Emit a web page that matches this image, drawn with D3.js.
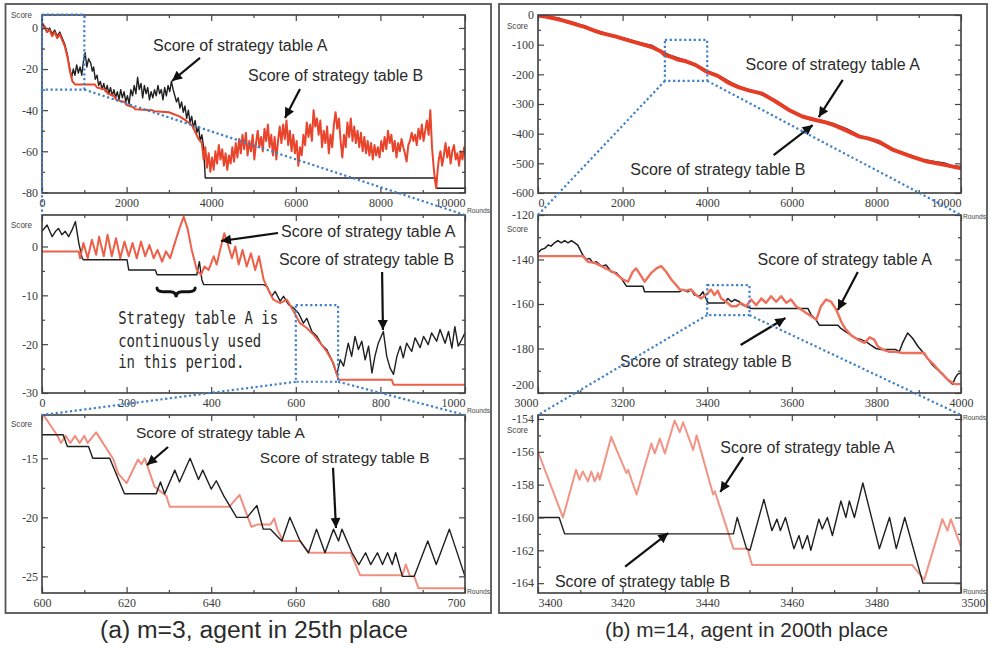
<!DOCTYPE html>
<html>
<head>
<meta charset="utf-8">
<title>Scores of strategy tables</title>
<script src="https://cdn.jsdelivr.net/npm/d3@7"></script>
<style>
  body { margin: 0; background: #fff; }
  svg { display: block; }
  .tick text { font-family: "Liberation Serif", "Times New Roman", serif; font-size: 12px; fill: #3b3b3b; }
  .tick line { stroke: #444; stroke-width: 1.2; }
  .note { font-family: "Liberation Sans", Arial, sans-serif; fill: #2b2b2b; }
  .small { font-family: "Liberation Sans", Arial, sans-serif; fill: #444; }
</style>
</head>
<body>
<svg id="chart" width="990" height="651"></svg>
<script>
// ---- data: [round, score] ----
const a1Black = [[0,3],[60,0],[120,-2],[180,0],[240,-3],[300,-1],[360,-4],[420,-2],[480,-5],[540,-8],[600,-13],[650,-19],[700,-24],[740,-20],[780,-23],[820,-18],[860,-22],[900,-19],[940,-23],[980,-16],[1020,-12],[1060,-19],[1100,-15],[1150,-17],[1190,-21],[1220,-19],[1260,-25],[1300,-23],[1340,-28],[1380,-26],[1420,-30],[1460,-27],[1500,-31],[1540,-28],[1580,-32],[1620,-29],[1660,-33],[1700,-30],[1740,-34],[1780,-31],[1820,-35],[1860,-30],[1900,-34],[1940,-31],[1980,-36],[2020,-33],[2060,-37],[2100,-30],[2140,-33],[2180,-28],[2220,-32],[2260,-24],[2300,-30],[2340,-27],[2380,-34],[2420,-28],[2460,-32],[2500,-29],[2540,-35],[2580,-31],[2620,-34],[2660,-30],[2700,-33],[2740,-28],[2780,-32],[2820,-30],[2860,-35],[2900,-29],[2940,-33],[2980,-28],[3020,-31],[3060,-26],[3100,-30],[3140,-33],[3180,-36],[3220,-34],[3260,-39],[3300,-36],[3340,-41],[3380,-38],[3420,-44],[3460,-40],[3500,-46],[3540,-43],[3580,-49],[3620,-45],[3660,-51],[3700,-48],[3740,-55],[3780,-52],[3820,-58],[3860,-73],[9300,-73],[9330,-78],[10000,-78]];
const a1Red = [[0,-1],[60,1],[120,-2],[180,-1],[240,-4],[300,-2],[360,-5],[420,-3],[480,-6],[540,-9],[600,-14],[660,-21],[720,-26],[780,-27.5],[1250,-27.5],[1300,-29],[1500,-30],[1560,-32],[1700,-33],[1760,-35],[1950,-36],[2000,-37.5],[2150,-38.5],[2200,-39.5],[2600,-40],[2650,-40.5],[3000,-41],[3250,-43],[3400,-45],[3550,-47.5],[3700,-54],[3780,-56],[3820,-64],[3860,-58],[3900,-68],[3940,-61],[3980,-70],[4020,-63],[4060,-69],[4100,-60],[4140,-66],[4180,-57],[4220,-64],[4260,-59],[4300,-67],[4340,-61],[4380,-69],[4420,-62],[4460,-66],[4500,-58],[4540,-65],[4580,-56],[4620,-63],[4660,-54],[4700,-61],[4740,-52],[4780,-59],[4820,-51],[4860,-62],[4900,-55],[4940,-60],[4980,-52],[5020,-64],[5060,-56],[5100,-50],[5140,-58],[5180,-53],[5220,-60],[5260,-49],[5300,-55],[5340,-47],[5380,-58],[5420,-52],[5460,-62],[5500,-53],[5540,-64],[5580,-55],[5620,-48],[5660,-56],[5700,-47],[5740,-54],[5780,-45],[5820,-57],[5860,-50],[5900,-60],[5940,-52],[5980,-61],[6020,-55],[6060,-67],[6100,-58],[6140,-62],[6180,-52],[6220,-57],[6260,-46],[6300,-53],[6340,-47],[6380,-55],[6420,-40],[6460,-48],[6500,-44],[6540,-52],[6580,-45],[6620,-58],[6660,-50],[6700,-56],[6740,-48],[6780,-61],[6820,-52],[6860,-58],[6900,-47],[6940,-41],[6980,-49],[7020,-44],[7060,-55],[7100,-63],[7140,-52],[7180,-58],[7220,-46],[7260,-53],[7300,-44],[7340,-55],[7380,-48],[7420,-56],[7460,-50],[7500,-58],[7540,-51],[7580,-60],[7620,-53],[7660,-61],[7700,-55],[7740,-62],[7780,-56],[7820,-64],[7860,-57],[7900,-62],[7940,-58],[7980,-63],[8020,-55],[8060,-60],[8100,-53],[8140,-59],[8180,-50],[8220,-56],[8260,-52],[8300,-60],[8340,-55],[8380,-63],[8420,-56],[8460,-60],[8500,-54],[8540,-58],[8580,-61],[8620,-65],[8660,-57],[8700,-55],[8740,-51],[8780,-55],[8820,-52],[8860,-57],[8900,-49],[8940,-54],[8980,-47],[9020,-55],[9060,-50],[9100,-45],[9140,-52],[9180,-40],[9220,-58],[9260,-68],[9290,-74],[9320,-78],[9350,-70],[9380,-64],[9420,-60],[9460,-67],[9500,-62],[9540,-56],[9580,-63],[9620,-58],[9660,-66],[9700,-60],[9740,-57],[9780,-64],[9820,-61],[9860,-67],[9900,-60],[9940,-64],[9980,-58],[10000,-62]];

const a2Black = [[0,3.1],[12,4.4],[24,2],[32,3.1],[39,3.7],[47,2.4],[55,3.1],[63,2],[71,3.4],[79,5.1],[87,0.7],[95,-2.4],[98,-2.7],[201,-2.7],[205,-4.8],[268,-4.8],[272,-5.8],[366,-5.8],[372,-3.1],[378,-6.8],[382,-7.8],[524,-7.8],[532,-8.2],[543,-10.2],[551,-9.2],[563,-11.2],[571,-10.2],[583,-11.9],[595,-12.6],[606,-13.6],[618,-15.7],[626,-14.7],[638,-17.4],[650,-18.4],[661,-20.1],[673,-21.1],[685,-23.2],[697,-26.2],[705,-23.2],[713,-24.5],[724,-19.8],[732,-22.5],[740,-18.4],[748,-21.1],[756,-19.4],[764,-23.2],[772,-20.4],[780,-25.9],[787,-22.5],[795,-19.8],[807,-17.4],[815,-22.5],[823,-24.9],[831,-26.2],[839,-22.5],[847,-20.4],[854,-22.8],[862,-19.8],[874,-21.5],[882,-18.7],[894,-20.7],[902,-18.4],[913,-20.1],[921,-17.7],[933,-19.4],[941,-17],[953,-19.8],[961,-17.4],[969,-20.8],[976,-16.4],[984,-20.4],[992,-19.1],[1000,-17.7]];
const a2Red = [[0,-1],[87,-1],[90,-2.4],[98,0.7],[108,-2.4],[118,1.4],[128,-1.7],[135,2],[146,-2],[155,2.4],[165,-2],[175,1.7],[185,-2.4],[195,1],[205,-2],[214,0.7],[224,-2.4],[234,1],[244,-2],[254,0.3],[264,-2.4],[273,-0.7],[284,-3.1],[293,-1],[303,-2.4],[315,1],[325,3.7],[335,6.1],[344,3.7],[354,-0.7],[366,-4.8],[376,-5.8],[384,-4.1],[394,-4.8],[406,-2],[413,-3.7],[421,-0.7],[431,2.7],[440,0.3],[449,-2.4],[457,0],[465,-3.7],[474,-0.7],[484,-4.1],[494,-1.4],[504,-4.8],[513,-2],[524,-6.8],[535,-8.9],[547,-10.9],[563,-11.6],[579,-10.9],[595,-13.3],[610,-15.7],[626,-16.7],[642,-18.1],[658,-19.8],[673,-21.5],[689,-23.9],[701,-27.3],[827,-27.3],[831,-28.3],[1000,-28.3]];

const a3Black = [[600,-13],[605,-13],[606,-14],[611,-14],[612,-15],[616,-15],[619.5,-18],[627,-18],[628,-17],[629,-18],[631.4,-16],[632.5,-17],[635,-15],[637,-16.8],[638,-16],[640,-17.6],[641.2,-16.9],[643,-18.2],[646,-20],[648.5,-20],[650.8,-19],[652.3,-21],[654,-21],[656.7,-22],[658.6,-20],[661,-22],[663,-23],[664.9,-21],[666.9,-23],[668.9,-21],[670.1,-22],[670.9,-21],[673.3,-23],[674.9,-24],[676.5,-23],[677.7,-24],[679.3,-23],[680.5,-24],[681.7,-23],[682.8,-24],[683.6,-23],[685.2,-25],[688,-25],[691.2,-22],[693.2,-24],[696.3,-21],[700,-25]];
const a3Red = [[600.3,-11.3],[603.5,-13],[604.5,-13.7],[605.6,-13.1],[606.7,-13.7],[607.8,-13.1],[608.9,-13.7],[610,-13.1],[610.8,-13.7],[612.8,-12.8],[616.9,-15.1],[618,-16.3],[620,-17.1],[622.7,-15.1],[623.5,-15.5],[624.3,-15],[626.6,-17.4],[629.4,-18.2],[630.2,-19.1],[644.3,-19.1],[646.7,-18.1],[649.5,-20.8],[651,-20.6],[654,-20.6],[654.9,-20.1],[655.6,-21],[657,-22],[661,-22],[663,-23],[673,-23],[675.2,-24.9],[685.2,-24.9],[686,-24],[687,-25],[688,-25],[689,-26],[700,-26]];

const b1Black = [[0,-1],[300,-8],[500,-12],[700,-25],[900,-30],[1100,-38],[1350,-56],[1500,-58],[1800,-72],[2000,-78],[2300,-90],[2500,-98],[2700,-104],[2900,-122],[3100,-136],[3400,-150],[3700,-168],[4000,-190],[4300,-208],[4600,-232],[4900,-250],[5200,-262],[5500,-282],[5800,-308],[6100,-333],[6400,-350],[6700,-357],[7000,-368],[7300,-385],[7600,-408],[7900,-422],[8200,-440],[8500,-460],[8800,-474],[9100,-488],[9400,-496],[9600,-500],[9800,-510],[10000,-512]];
const b1Red = [[0,-2],[200,-6],[400,-12],[600,-19],[800,-27],[950,-34],[1100,-40],[1300,-51],[1500,-61],[1700,-68],[1850,-73],[1980,-79],[2200,-88],[2450,-98],[2690,-108],[2920,-124],[3000,-135],[3150,-141],[3300,-150],[3500,-156],[3720,-168],[4000,-192],[4250,-205],[4500,-228],[4750,-244],[5000,-255],[5300,-265],[5600,-290],[5930,-320],[6250,-342],[6400,-348],[6560,-354],[6800,-362],[7000,-371],[7270,-388],[7600,-410],[7800,-416],[8060,-427],[8400,-455],[8850,-478],[9200,-494],[9640,-506],[10000,-517]];

const b2Black = [[3000,-137],[3008,-135.5],[3016,-135],[3024,-133.5],[3031,-134],[3039,-132.5],[3047,-131.5],[3055,-132.5],[3063,-131.5],[3071,-132.5],[3079,-131.5],[3087,-132.5],[3094,-133.5],[3106,-138],[3114,-140],[3122,-139.5],[3130,-141.5],[3138,-141],[3150,-143],[3161,-142.5],[3173,-145.5],[3185,-146],[3197,-148.5],[3209,-152],[3248,-152],[3252,-154.5],[3335,-154.5],[3342,-153.5],[3354,-154.5],[3362,-153.5],[3370,-156],[3382,-156.5],[3390,-154.5],[3398,-158],[3402,-159.5],[3441,-159.5],[3449,-157.5],[3457,-159],[3465,-158],[3476,-159],[3484,-160.5],[3504,-162],[3638,-162],[3646,-165],[3657,-167],[3665,-169.5],[3709,-169.5],[3716,-171],[3728,-172.5],[3740,-174],[3752,-175.5],[3764,-176],[3776,-177],[3787,-178.5],[3799,-180],[3811,-180.5],[3846,-180.5],[3854,-181.5],[3862,-177.5],[3874,-173],[3886,-175.5],[3898,-179],[3909,-181.5],[3921,-184.5],[3933,-187.5],[3945,-189.5],[3957,-191.5],[3968,-194],[3980,-196],[3987,-193],[3992,-191.5],[4000,-191]];
const b2Red = [[3000,-138.5],[3090,-138.5],[3106,-138.5],[3118,-141],[3134,-141.5],[3150,-143],[3165,-144.5],[3181,-146],[3201,-149],[3213,-150],[3224,-145.5],[3232,-144],[3244,-147.5],[3252,-150],[3268,-146],[3280,-144],[3291,-143],[3303,-145.5],[3315,-149],[3327,-151.5],[3335,-153.5],[3350,-154],[3362,-153.5],[3374,-156],[3386,-157.5],[3402,-155],[3409,-153.5],[3417,-156],[3425,-154],[3433,-157.5],[3445,-159],[3457,-161],[3469,-161],[3480,-159.5],[3492,-161],[3504,-158],[3516,-160.5],[3528,-157.5],[3539,-159.5],[3551,-156.5],[3563,-159],[3575,-156.5],[3587,-159.5],[3598,-158],[3610,-161],[3622,-162.5],[3634,-164],[3646,-165.5],[3658,-167],[3669,-161],[3681,-158],[3693,-159],[3705,-162.5],[3717,-168],[3728,-171.5],[3740,-174],[3756,-176],[3772,-177.5],[3784,-175],[3795,-176],[3803,-179],[3815,-180.5],[3831,-181.5],[3846,-181.5],[3862,-182],[3913,-182],[3921,-184.5],[3937,-187.5],[3953,-191],[3969,-194],[3984,-196],[4000,-196]];

const b3Black = [[3400,-160],[3405,-160],[3406.3,-161],[3446.2,-161],[3447.1,-160],[3449.3,-161.9],[3450.1,-162],[3453.4,-158.9],[3455.3,-160.8],[3456.5,-160.1],[3457.3,-160.8],[3458.5,-160],[3460.5,-161.9],[3461.7,-161.1],[3462.5,-161.9],[3463.7,-161.1],[3464.5,-162],[3466.4,-160.1],[3467.2,-160.7],[3468.4,-160],[3469.6,-161.1],[3471.6,-159],[3472.8,-160],[3473.6,-159],[3474.8,-160],[3476.8,-157.9],[3480.7,-161.9],[3483.1,-160],[3484.7,-161.9],[3486.7,-160],[3491,-164],[3500,-164]];
const b3Red = [[3400,-156],[3405.9,-160],[3409,-157.1],[3409.8,-157.7],[3410.6,-157.2],[3411.8,-157.8],[3412.6,-157.2],[3413.4,-157.8],[3414.2,-157.3],[3414.6,-157.7],[3417.3,-155.1],[3420.9,-157.3],[3421.3,-157.1],[3423.3,-158.6],[3426.8,-155.5],[3427.6,-156.1],[3428.8,-155.2],[3430,-156.1],[3432.3,-154.1],[3433.5,-154.8],[3434.3,-154.2],[3436.7,-155.9],[3437.5,-155],[3441.4,-158.6],[3441.8,-158.4],[3446.2,-161.9],[3449.5,-161.9],[3450.6,-162.9],[3488.5,-162.9],[3491.3,-163.8],[3495.6,-160.1],[3496.8,-160.8],[3497.6,-160.1],[3500,-161.8]];

// ---- ticks and labels ----
const a1XTicks = [0, 2000, 4000, 6000, 8000, 10000];
const a1YTicks = [0, -20, -40, -60, -80];
const a2XTicks = [0, 200, 400, 600, 800, 1000];
const a2YTicks = [0, -10, -20, -30];
const a3XTicks = [600, 620, 640, 660, 680, 700];
const a3YTicks = [-15, -20, -25];
const b1XTicks = [0, 2000, 4000, 6000, 8000, 10000];
const b1YTicks = [0, -100, -200, -300, -400, -500, -600];
const b2XTicks = [3000, 3200, 3400, 3600, 3800, 4000];
const b2YTicks = [-120, -140, -160, -180, -200];
const b3XTicks = [3400, 3420, 3440, 3460, 3480, 3500];
const b3YTicks = [-154, -156, -158, -160, -162, -164];

const labelA = "Score of strategy table A";
const labelB = "Score of strategy table B";
const braceNote = ["Strategy table A is", "continuously used", "in this period."];
const captions = ["(a) m=3, agent in 25th place", "(b) m=14, agent in 200th place"];

// ---- layout ----
const BLACK = "#1f1f1f";
const BLUE = "#3f80c8";
const colL = { left: 42, right: 465 };
const colR = { left: 538, right: 961 };
const rows = [{ top: 15, bottom: 193 }, { top: 215, bottom: 393 }, { top: 415, bottom: 593 }];

const panels = [
  { id: "a1", ...colL, ...rows[0], xDomain: [0, 10000], yDomain: [-80.3, 6.3], xTicks: a1XTicks, yTicks: a1YTicks, scoreDy: 3, roundsDy: 20,
    firstAnchor: "middle", lastAnchor: "end", lowLabelShift: 0,
    series: [{ data: a1Black, color: BLACK, width: 1.4 }, { data: a1Red, color: "#e8452c", width: 2 }],
    zoom: { x: [0, 1000], y: [6.45, -30], target: "a2" },
    notes: [
      { text: labelA, at: [2624, -11.2], size: 16 }, { arrow: [[3735, -14.6], [3073, -25.8]] },
      { text: labelB, at: [4870, -25.8], size: 16 }, { arrow: [[6099, -29.7], [5744, -43.8]] }] },
  { id: "a2", ...colL, ...rows[1], xDomain: [0, 1000], yDomain: [-30, 6.45], xTicks: a2XTicks, yTicks: a2YTicks, scoreDy: 13, roundsDy: 20,
    firstAnchor: "middle", lastAnchor: "end", lowLabelShift: 0,
    series: [{ data: a2Black, color: BLACK, width: 1.4 }, { data: a2Red, color: "#ee5f48", width: 2 }],
    zoom: { x: [600, 700], y: [-12, -27.7], target: "a3" },
    notes: [
      { text: labelA, at: [565, 1.94], size: 16 }, { arrow: [[558, 2.76], [423, 1.13]] },
      { text: labelB, at: [560, -3.79], size: 16 }, { arrow: [[804, -5.22], [806, -17.1]] }],
    brace: { x: [272, 362], y: [-8.5, -10.4], text: [180, [-15.87, -20.52, -24.88]] } },
  { id: "a3", ...colL, ...rows[2], xDomain: [600, 700], yDomain: [-26.41, -11.33], xTicks: a3XTicks, yTicks: a3YTicks, scoreDy: 12, roundsDy: 1,
    firstAnchor: "middle", lastAnchor: "end", lowLabelShift: 0,
    series: [{ data: a3Red, color: "#f28e80", width: 2 }, { data: a3Black, color: BLACK, width: 1.4 }],
    notes: [
      { text: labelA, at: [622.2, -13.28], size: 15.5 }, { arrow: [[629.8, -14.04], [624.8, -15.57]] },
      { text: labelB, at: [651.5, -15.4], size: 15.5 }, { arrow: [[668.8, -15.8], [669.5, -20.9]] }] },
  { id: "b1", ...colR, ...rows[0], xDomain: [0, 10000], yDomain: [-600, 0], xTicks: b1XTicks, yTicks: b1YTicks, scoreDy: 14, roundsDy: 26,
    firstAnchor: "start", lastAnchor: "end", lowLabelShift: 0,
    series: [{ data: b1Black, color: BLACK, width: 2.2 }, { data: b1Red, color: "#e63b24", width: 4 }],
    zoom: { x: [3000, 4000], y: [-84, -222], target: "b2" },
    notes: [
      { text: labelA, at: [4906, -185.4], size: 16 }, { arrow: [[7205, -219], [6636, -344]] },
      { text: labelB, at: [2180, -539], size: 16 }, { arrow: [[5570, -472], [6494, -371]] }] },
  { id: "b2", ...colR, ...rows[1], xDomain: [3000, 4000], yDomain: [-200, -120], xTicks: b2XTicks, yTicks: b2YTicks, scoreDy: 17, roundsDy: 27,
    firstAnchor: "end", lastAnchor: "middle", lowLabelShift: -8,
    series: [{ data: b2Black, color: BLACK, width: 1.5 }, { data: b2Red, color: "#ef6f5a", width: 2.4 }],
    zoom: { x: [3400, 3500], y: [-151.5, -165], target: "b3" },
    notes: [
      { text: labelA, at: [3519, -142.5], size: 16 }, { arrow: [[3756, -145.6], [3709, -162.7]] },
      { text: labelB, at: [3194, -188.3], size: 15.7 }, { arrow: [[3479, -178.4], [3585, -166.3]] }] },
  { id: "b3", ...colR, ...rows[2], xDomain: [3400, 3500], yDomain: [-164.6, -153.76], xTicks: b3XTicks, yTicks: b3YTicks, scoreDy: 18, roundsDy: 1,
    firstAnchor: "start", lastAnchor: "start", lowLabelShift: 0,
    series: [{ data: b3Red, color: "#f29486", width: 2 }, { data: b3Black, color: BLACK, width: 1.4 }],
    notes: [
      { text: labelA, at: [3443.1, -156.08], size: 16 }, { arrow: [[3448.5, -156.32], [3443.1, -158.45]] },
      { text: labelB, at: [3404, -164.25], size: 16 }, { arrow: [[3420.6, -163.0], [3430.8, -160.95]] }] }
];

const svg = d3.select("#chart");
svg.append("rect").attr("width", 990).attr("height", 651).attr("fill", "#fff");

const defs = svg.append("defs");
defs.append("marker")
  .attr("id", "head")
  .attr("viewBox", "0 0 10 10")
  .attr("refX", 10).attr("refY", 5)
  .attr("markerWidth", 11).attr("markerHeight", 10)
  .attr("markerUnits", "userSpaceOnUse")
  .attr("orient", "auto")
  .append("path").attr("d", "M0,0 L10,5 L0,10 Z").attr("fill", "#111");

const scales = new Map();
panels.forEach((p) => {
  const x = d3.scaleLinear().domain(p.xDomain).range([p.left, p.right]);
  const y = d3.scaleLinear().domain(p.yDomain).range([p.bottom, p.top]);
  scales.set(p.id, { x, y, p });
});

function drawAxes(g, p, x, y) {
  const minorX = d3.pairs(p.xTicks).map(([a, b]) => (a + b) / 2);
  const minorY = d3.pairs(p.yTicks).map(([a, b]) => (a + b) / 2);
  const none = () => "";
  const add = (axis, tx, ty) => {
    const a = g.append("g").attr("transform", `translate(${tx},${ty})`).call(axis);
    a.select(".domain").remove();
    return a;
  };
  const bottom = add(d3.axisBottom(x).tickValues(p.xTicks).tickSizeInner(-6).tickSizeOuter(0).tickPadding(5).tickFormat((d) => String(d)), 0, p.bottom);
  const xLabels = bottom.selectAll(".tick text");
  xLabels.filter((d, i) => i === 0).attr("text-anchor", p.firstAnchor);
  xLabels.filter((d, i, nodes) => i === nodes.length - 1).attr("text-anchor", p.lastAnchor);
  const left = add(d3.axisLeft(y).tickValues(p.yTicks).tickSizeInner(-6).tickSizeOuter(0).tickPadding(4).tickFormat((d) => String(d)), p.left, 0);
  left.selectAll(".tick text").filter((d, i, nodes) => i === nodes.length - 1).attr("dy", p.lowLabelShift ? `${0.32 * 12 + p.lowLabelShift}px` : "0.32em");
  add(d3.axisTop(x).tickValues(p.xTicks).tickSizeInner(-6).tickSizeOuter(0).tickFormat(none), 0, p.top);
  add(d3.axisRight(y).tickValues(p.yTicks).tickSizeInner(-6).tickSizeOuter(0).tickFormat(none), p.right, 0);
  add(d3.axisBottom(x).tickValues(minorX).tickSizeInner(-3).tickSizeOuter(0).tickFormat(none), 0, p.bottom);
  add(d3.axisTop(x).tickValues(minorX).tickSizeInner(-3).tickSizeOuter(0).tickFormat(none), 0, p.top);
  add(d3.axisLeft(y).tickValues(minorY).tickSizeInner(-3).tickSizeOuter(0).tickFormat(none), p.left, 0);
  add(d3.axisRight(y).tickValues(minorY).tickSizeInner(-3).tickSizeOuter(0).tickFormat(none), p.right, 0);
}

function drawBrace(g, p, x, y) {
  const b = p.brace;
  const x0 = x(b.x[0]), x1 = x(b.x[1]), xc = (x0 + x1) / 2;
  const yTop = y(b.y[0]), yTip = y(b.y[1]), yMid = (yTop + yTip) / 2 - 1;
  const path = d3.path();
  path.moveTo(x0, yTop);
  path.quadraticCurveTo(x0, yMid, x0 + 6, yMid);
  path.lineTo(xc - 6, yMid);
  path.quadraticCurveTo(xc, yMid, xc, yTip);
  path.quadraticCurveTo(xc, yMid, xc + 6, yMid);
  path.lineTo(x1 - 6, yMid);
  path.quadraticCurveTo(x1, yMid, x1, yTop);
  g.append("path").attr("d", path.toString()).attr("fill", "none")
    .attr("stroke", "#111").attr("stroke-width", 3).attr("stroke-linecap", "round");
  braceNote.forEach((line, i) => {
    g.append("text")
      .attr("x", x(b.text[0])).attr("y", y(b.text[1][i]))
      .attr("font-family", "'DejaVu Sans Mono', monospace")
      .attr("font-size", 17).attr("fill", "#2a2a2a")
      .attr("textLength", line.length * 8.42).attr("lengthAdjust", "spacingAndGlyphs")
      .text(line);
  });
}

function drawPanel(p) {
  const { x, y } = scales.get(p.id);
  const g = svg.append("g").attr("class", `panel-${p.id}`);
  const clipId = `clip-${p.id}`;
  defs.append("clipPath").attr("id", clipId).append("rect")
    .attr("x", p.left).attr("y", p.top).attr("width", p.right - p.left).attr("height", p.bottom - p.top);

  const line = d3.line().x((d) => x(d[0])).y((d) => y(d[1]));
  const lines = g.append("g").attr("clip-path", `url(#${clipId})`);
  p.series.forEach((s) => {
    lines.append("path").datum(s.data).attr("d", line)
      .attr("fill", "none").attr("stroke", s.color).attr("stroke-width", s.width)
      .attr("stroke-linejoin", "round");
  });

  g.append("rect")
    .attr("x", p.left).attr("y", p.top).attr("width", p.right - p.left).attr("height", p.bottom - p.top)
    .attr("fill", "none").attr("stroke", "#3c3c3c").attr("stroke-width", 1.6);
  drawAxes(g, p, x, y);

  g.append("text").attr("class", "small")
    .attr("x", p.left - 10).attr("y", p.top + p.scoreDy)
    .attr("text-anchor", "end").attr("font-size", 9)
    .attr("textLength", 21).attr("lengthAdjust", "spacingAndGlyphs").text("Score");
  g.append("text").attr("class", "small")
    .attr("x", p.right + 2).attr("y", p.bottom + p.roundsDy)
    .attr("font-size", 8)
    .attr("textLength", 23).attr("lengthAdjust", "spacingAndGlyphs").text("Rounds");

  p.notes.forEach((n) => {
    if (n.text) {
      g.append("text").attr("class", "note")
        .attr("x", x(n.at[0])).attr("y", y(n.at[1]))
        .attr("font-size", n.size).text(n.text);
    } else {
      const [from, to] = n.arrow;
      g.append("line")
        .attr("x1", x(from[0])).attr("y1", y(from[1]))
        .attr("x2", x(to[0])).attr("y2", y(to[1]))
        .attr("stroke", "#111").attr("stroke-width", 2.2)
        .attr("marker-end", "url(#head)");
    }
  });

  if (p.brace) {
    drawBrace(g, p, x, y);
  }
}

function drawZoom(p) {
  const { x, y } = scales.get(p.id);
  const t = scales.get(p.zoom.target).p;
  const g = svg.append("g")
    .attr("fill", "none").attr("stroke", BLUE)
    .attr("stroke-width", 2.2).attr("stroke-dasharray", "2.2 2.6");
  const x0 = x(p.zoom.x[0]), x1 = x(p.zoom.x[1]);
  const yTop = y(p.zoom.y[0]), yBot = y(p.zoom.y[1]);
  g.append("rect").attr("x", x0).attr("y", yTop).attr("width", x1 - x0).attr("height", yBot - yTop);
  g.append("line").attr("x1", x0).attr("y1", yBot).attr("x2", t.left).attr("y2", t.top);
  g.append("line").attr("x1", x1).attr("y1", yBot).attr("x2", t.right).attr("y2", t.top);
}

panels.forEach(drawPanel);
panels.filter((p) => p.zoom).forEach(drawZoom);

// outer frames and captions
svg.append("rect").attr("x", 5.5).attr("y", 4).attr("width", 485.5).attr("height", 609)
  .attr("fill", "none").attr("stroke", "#555").attr("stroke-width", 1.8);
svg.append("rect").attr("x", 499).attr("y", 4).attr("width", 488).attr("height", 609)
  .attr("fill", "none").attr("stroke", "#555").attr("stroke-width", 1.8);

const captionPos = [{ x: 254, y: 638, size: 23, len: 308 }, { x: 746.5, y: 637, size: 21, len: 283 }];
captions.forEach((c, i) => {
  svg.append("text").attr("class", "note")
    .attr("x", captionPos[i].x).attr("y", captionPos[i].y)
    .attr("text-anchor", "middle").attr("font-size", captionPos[i].size)
    .attr("textLength", captionPos[i].len).attr("lengthAdjust", "spacingAndGlyphs")
    .attr("fill", "#222").text(c);
});
</script>
</body>
</html>
